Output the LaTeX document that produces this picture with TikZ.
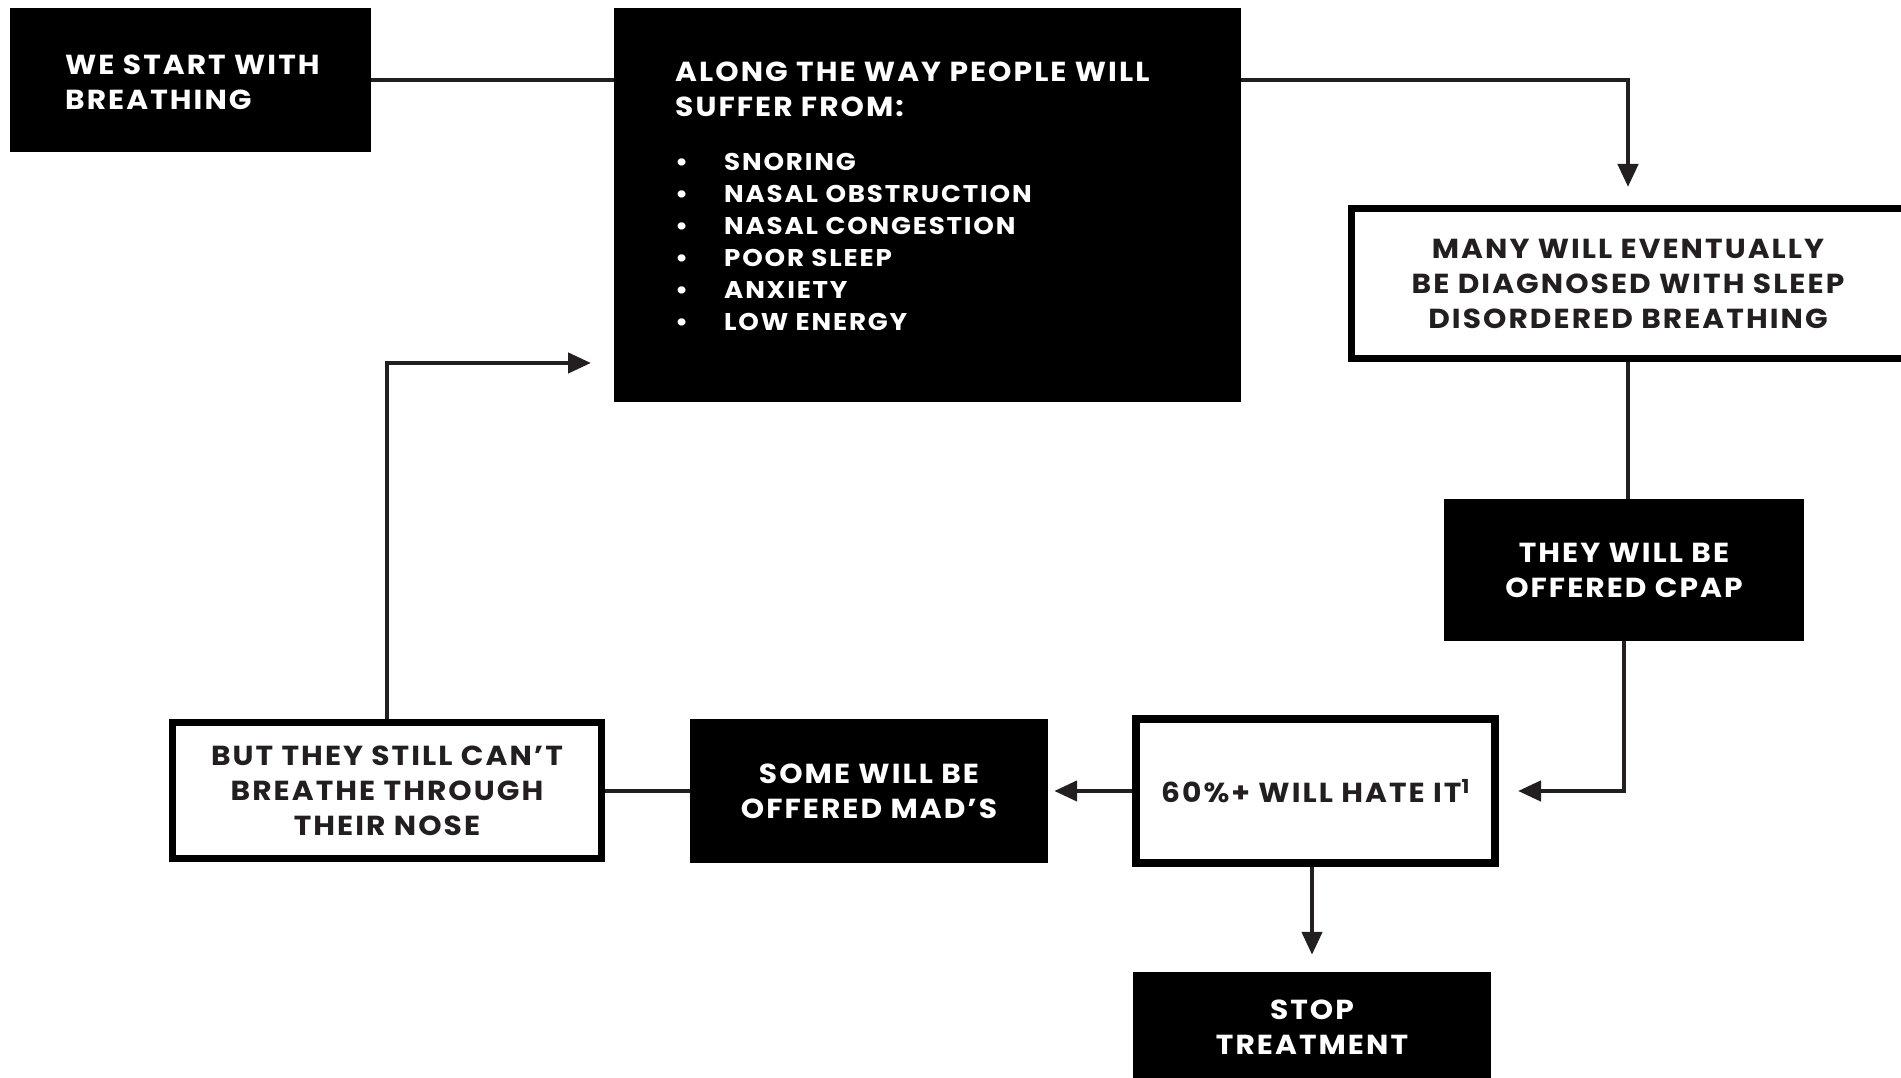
\documentclass[tikz,border=0pt]{standalone}
\usepackage{fontspec}
\setmainfont{Poppins}[FakeStretch=1.08, LetterSpace=7.5]
\usepackage{xcolor}
\usetikzlibrary{positioning,arrows.meta}
\definecolor{ink}{HTML}{231F20}

\begin{document}
\begin{tikzpicture}[
        x=1pt, y=1pt,
        font=\bfseries\fontsize{27.5}{35}\selectfont,
        inner sep=0pt,
        darkbox/.style={fill=black, text=white, align=center},
        lightbox/.style={draw=black, fill=white, text=ink, align=center, line width=7pt},
        link/.style={draw=ink, line width=4.5pt},
        tip/.style={-{Triangle[length=23pt, width=20pt]}}]

        \useasboundingbox (0,0) rectangle (1901,1078);
        \clip (0,0) rectangle (1901,1078);

        % NODES
        % top row
        \node[darkbox, minimum width=361pt, minimum height=144pt] (start) at (190.5,998) {};
        \node[anchor=north west, text=white, align=left] (start_txt) at (65,1023)
            {WE START WITH\\BREATHING};

        \node[darkbox, minimum width=627pt, minimum height=394pt] (along) at (927.5,873) {};
        \node[anchor=north west, text=white, align=left] (along_txt) at (675,1016)
            {ALONG THE WAY PEOPLE WILL\\SUFFER FROM:};
        \node[below=35.5pt of along_txt.south west, anchor=north west, text=white, align=left,
              font=\bfseries\fontsize{24.2}{32}\selectfont] (along_list)
            {\makebox[49pt][l]{•}SNORING\\
             \makebox[49pt][l]{•}NASAL OBSTRUCTION\\
             \makebox[49pt][l]{•}NASAL CONGESTION\\
             \makebox[49pt][l]{•}POOR SLEEP\\
             \makebox[49pt][l]{•}ANXIETY\\
             \makebox[49pt][l]{•}LOW ENERGY};

        % right column
        \node[lightbox, minimum width=553pt, minimum height=150pt] (diag) at (1628,794.5)
            {MANY WILL EVENTUALLY\\BE DIAGNOSED WITH SLEEP\\DISORDERED BREATHING};
        \node[darkbox, minimum width=360pt, minimum height=142pt] (cpap) at (1624,508)
            {THEY WILL BE\\OFFERED CPAP};

        % bottom row
        \node[lightbox, line width=8pt, minimum width=359pt, minimum height=144pt] (hate) at (1315.5,287)
            {60\%+ WILL HATE IT\textsuperscript{1}};
        \node[darkbox, minimum width=358pt, minimum height=111pt] (stop) at (1312,50.5)
            {STOP\\TREATMENT};
        \node[darkbox, minimum width=358pt, minimum height=144pt, left of = hate, node distance = 446.5pt] (mads)
            {SOME WILL BE\\OFFERED MAD’S};
        \node[lightbox, minimum width=429pt, minimum height=136pt, left of = mads, node distance = 482pt] (nose)
            {BUT THEY STILL CAN’T\\BREATHE THROUGH\\THEIR NOSE};
        \coordinate (loop_in) at (614,715);

        % ARROWS
        \draw[link] (start.east) -- (along.west |- start.east);
        \draw[link, tip, shorten >=18pt] (along.east |- start.east) -| (diag.north);
        \draw[link] (diag.south) -- (diag.south |- cpap.north);
        \draw[link, tip, shorten >=19pt] (cpap.south) |- (hate.east);
        \draw[link, tip, shorten >=6pt] (hate.west) -- (mads.east);
        \draw[link] (mads.west) -- (nose.east);
        \draw[link, tip, shorten >=23pt] (nose.north) |- (loop_in);
        \draw[link, tip, shorten >=17pt] (hate.south -| stop.north) -- (stop.north);
\end{tikzpicture}
\end{document}
